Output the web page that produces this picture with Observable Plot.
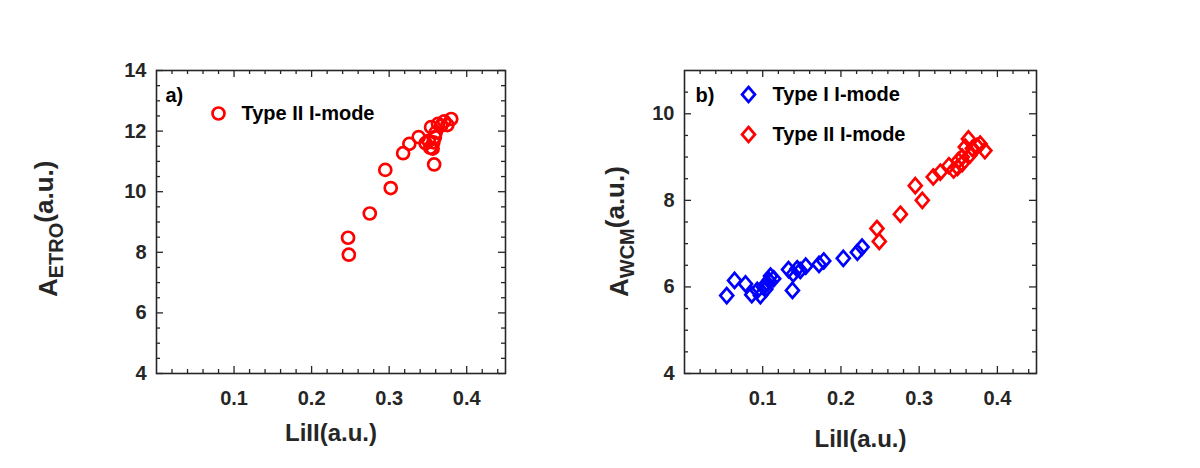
<!DOCTYPE html>
<html><head><meta charset="utf-8">
<script src="https://cdn.jsdelivr.net/npm/d3@7"></script>
<script src="https://cdn.jsdelivr.net/npm/@observablehq/plot@0.6"></script>
<style>
body{margin:0;background:#fff;}
#row{display:flex;width:1200px;height:468px;}
</style></head><body><div id="row"></div>
<script>
// Panel a) Type II I-mode : LiII vs A_ETRO
const aTypeII_LiII = [0.247,0.248,0.275,0.295,0.302,0.318,0.326,0.338,0.347,0.351,0.353,0.356,0.357,0.358,0.359,0.354,0.360,0.363,0.367,0.371,0.375,0.380];
const aTypeII_ETRO = [8.48,7.92,9.28,10.72,10.12,11.27,11.58,11.80,11.60,11.68,11.45,11.42,11.63,10.90,11.80,12.13,11.95,12.24,12.18,12.32,12.20,12.40];

// Panel b) Type I and Type II I-mode : LiII vs A_WCM
const bTypeI_LiII = [0.054,0.064,0.078,0.086,0.093,0.097,0.101,0.104,0.106,0.108,0.110,0.114,0.133,0.138,0.139,0.144,0.148,0.155,0.172,0.178,0.203,0.221,0.227];
const bTypeI_WCM  = [5.80,6.15,6.07,5.82,5.92,5.80,6.00,5.95,6.08,6.15,6.25,6.19,6.40,5.92,6.30,6.42,6.38,6.48,6.52,6.60,6.66,6.80,6.92];
const bTypeII_LiII = [0.246,0.249,0.276,0.295,0.304,0.318,0.327,0.338,0.344,0.349,0.350,0.355,0.355,0.359,0.363,0.365,0.368,0.374,0.378,0.384];
const bTypeII_WCM  = [7.35,7.05,7.68,8.34,8.00,8.54,8.65,8.80,8.70,8.76,8.92,9.00,8.85,9.23,9.42,9.05,9.20,9.25,9.30,9.15];

// Ticks
const xMajor = [0.1,0.2,0.3,0.4];
const xMinor = [0.02,0.04,0.06,0.08,0.12,0.14,0.16,0.18,0.22,0.24,0.26,0.28,0.32,0.34,0.36,0.38,0.42,0.44];
const aYMajor = [4,6,8,10,12,14];
const aYMinor = [4.5,5,5.5,6.5,7,7.5,8.5,9,9.5,10.5,11,11.5,12.5,13,13.5];
const bYMajor = [4,6,8,10];
const bYMinor = [4.5,5,5.5,6.5,7,7.5,8.5,9,9.5,10.5];

const xLabel = "LiII(a.u.)";
const legendA = ["Type II I-mode"];
const legendB = ["Type I I-mode","Type II I-mode"];
const colors = {typeI:"#0000ff", typeII:"#ff0000"};

const FONT = "'Liberation Sans', Arial, Helvetica, sans-serif";
const AX = "#262626";

// MATLAB-like diamond (slightly taller than wide)
const diamondSym = {
  draw(ctx, size) {
    const r = Math.sqrt(size / Math.PI);
    const w = r * 1.08, h = r * 1.25;
    ctx.moveTo(0, -h); ctx.lineTo(w, 0); ctx.lineTo(0, h); ctx.lineTo(-w, 0); ctx.closePath();
  }
};

function frameTicks(xMaj, xMin, yMaj, yMin, pw, ph){
  const M = 7, m = 4, sw = 1.3;
  return [
    Plot.ruleX(xMaj, {x: d=>d, insetTop: ph-M, stroke: AX, strokeWidth: sw}),
    Plot.ruleX(xMaj, {x: d=>d, insetBottom: ph-M, stroke: AX, strokeWidth: sw}),
    Plot.ruleX(xMin, {x: d=>d, insetTop: ph-m, stroke: AX, strokeWidth: sw}),
    Plot.ruleX(xMin, {x: d=>d, insetBottom: ph-m, stroke: AX, strokeWidth: sw}),
    Plot.ruleY(yMaj, {y: d=>d, insetRight: pw-M, stroke: AX, strokeWidth: sw}),
    Plot.ruleY(yMaj, {y: d=>d, insetLeft: pw-M, stroke: AX, strokeWidth: sw}),
    Plot.ruleY(yMin, {y: d=>d, insetRight: pw-m, stroke: AX, strokeWidth: sw}),
    Plot.ruleY(yMin, {y: d=>d, insetLeft: pw-m, stroke: AX, strokeWidth: sw}),
    Plot.frame({stroke: AX, strokeWidth: 1.6}),
    Plot.axisX(xMajor, {tickSize: 0, tickPadding: 17, fontSize: 20, fontWeight: "bold", fill: AX, label: null, tickFormat: d=>d.toFixed(1)}),
    Plot.axisY(yMaj, {tickSize: 0, tickPadding: 10, fontSize: 20, fontWeight: "bold", fill: AX, label: null})
  ];
}

// rotated y label starting (bottom end) at y
function addYLabel(svg, x, y, main, sub, tail){
  const t = d3.select(svg).append("text")
    .attr("transform", `translate(${x},${y}) rotate(-90)`)
    .attr("text-anchor", "start")
    .attr("font-family", FONT)
    .attr("font-weight", "bold")
    .attr("fill", AX);
  t.append("tspan").attr("font-size", 26).text(main);
  t.append("tspan").attr("font-size", 20).attr("dy", 6).text(sub);
  t.append("tspan").attr("font-size", 26).attr("dy", -10).text(tail);
}

const txt = {textAnchor: "start", lineAnchor: "middle", fontSize: 20, fontWeight: "bold", fill: "#000"};

// Panel a
const aW = 600, aH = 468, aML = 156, aMR = 95, aMT = 70, aMB = 95;
const aPW = aW - aML - aMR, aPH = aH - aMT - aMB;
const plotA = Plot.plot({
  width: aW, height: aH,
  marginLeft: aML, marginRight: aMR, marginTop: aMT, marginBottom: aMB,
  style: {fontFamily: FONT, background: "#fff"},
  x: {domain: [0, 0.45]},
  y: {domain: [4, 14]},
  marks: [
    ...frameTicks(xMajor, xMinor, aYMajor, aYMinor, aPW, aPH),
    Plot.dot(aTypeII_LiII.map((v,i)=>({x:v, y:aTypeII_ETRO[i]})), {x:"x", y:"y", r: 6, stroke: colors.typeII, strokeWidth: 2.7, fill: "none"}),
    Plot.text(["a)"], {frameAnchor: "top-left", dx: 9, dy: 25, text: d=>d, ...txt}),
    Plot.dot(legendA, {frameAnchor: "top-left", dx: 62, dy: 43, r: 6, stroke: colors.typeII, strokeWidth: 2.7, fill: "none"}),
    Plot.text(legendA, {frameAnchor: "top-left", dx: 85, dy: 43, text: d=>d, ...txt}),
    Plot.text([xLabel], {frameAnchor: "bottom", dy: 60, text: d=>d, lineAnchor: "middle", fontSize: 24, fontWeight: "bold", fill: AX})
  ]
});
addYLabel(plotA, 57, 297, "A", "ETRO", "(a.u.)");

// Panel b
const bW = 600, bH = 468, bML = 84, bMR = 164, bMT = 70, bMB = 95;
const bPW = bW - bML - bMR, bPH = bH - bMT - bMB;
const plotB = Plot.plot({
  width: bW, height: bH,
  marginLeft: bML, marginRight: bMR, marginTop: bMT, marginBottom: bMB,
  style: {fontFamily: FONT, background: "#fff"},
  x: {domain: [0, 0.45]},
  y: {domain: [4, 11]},
  marks: [
    ...frameTicks(xMajor, xMinor, bYMajor, bYMinor, bPW, bPH),
    Plot.dot(bTypeI_LiII.map((v,i)=>({x:v, y:bTypeI_WCM[i]})), {x:"x", y:"y", symbol: diamondSym, r: 6, stroke: colors.typeI, strokeWidth: 2.7, fill: "none"}),
    Plot.dot(bTypeII_LiII.map((v,i)=>({x:v, y:bTypeII_WCM[i]})), {x:"x", y:"y", symbol: diamondSym, r: 6, stroke: colors.typeII, strokeWidth: 2.7, fill: "none"}),
    Plot.text(["b)"], {frameAnchor: "top-left", dx: 11, dy: 25, text: d=>d, ...txt}),
    Plot.dot([legendB[0]], {frameAnchor: "top-left", dx: 64, dy: 24, symbol: diamondSym, r: 6, stroke: colors.typeI, strokeWidth: 2.7, fill: "none"}),
    Plot.text([legendB[0]], {frameAnchor: "top-left", dx: 88, dy: 24, text: d=>d, ...txt}),
    Plot.dot([legendB[1]], {frameAnchor: "top-left", dx: 64, dy: 64, symbol: diamondSym, r: 6, stroke: colors.typeII, strokeWidth: 2.7, fill: "none"}),
    Plot.text([legendB[1]], {frameAnchor: "top-left", dx: 88, dy: 64, text: d=>d, ...txt}),
    Plot.text([xLabel], {frameAnchor: "bottom", dy: 66, text: d=>d, lineAnchor: "middle", fontSize: 24, fontWeight: "bold", fill: AX})
  ]
});
addYLabel(plotB, 28, 297, "A", "WCM", "(a.u.)");

const row = document.getElementById("row");
row.appendChild(plotA);
row.appendChild(plotB);
</script>
</body></html>
